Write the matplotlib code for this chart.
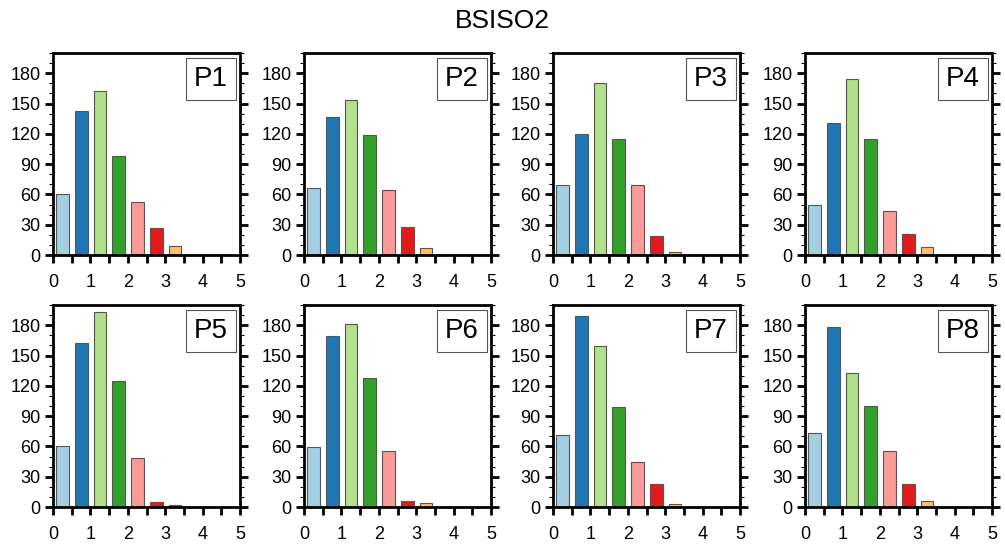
import numpy as np
import matplotlib.pyplot as plt
from matplotlib.ticker import MultipleLocator

plt.rcParams['font.family'] = ['Liberation Sans', 'DejaVu Sans']

# bin centres (amplitude bins of width 0.5)
bins = [0.25, 0.75, 1.25, 1.75, 2.25, 2.75, 3.25, 3.75, 4.25, 4.75]
phases = ['P1', 'P2', 'P3', 'P4', 'P5', 'P6', 'P7', 'P8']

p1 = [60, 143, 162, 98, 52, 27, 9, 0, 0, 0]
p2 = [66, 137, 153, 119, 64, 28, 7, 0, 0, 0]
p3 = [69, 120, 170, 115, 69, 19, 3, 0, 0, 0]
p4 = [50, 131, 174, 115, 44, 21, 8, 0, 0, 0]
p5 = [60, 162, 193, 125, 49, 5, 2, 0, 0, 0]
p6 = [59, 169, 181, 128, 55, 6, 4, 0, 0, 0]
p7 = [71, 189, 159, 99, 45, 23, 3, 0, 0, 0]
p8 = [73, 178, 133, 100, 55, 23, 6, 0, 0, 0]
counts = [p1, p2, p3, p4, p5, p6, p7, p8]

colors = ['#a6cee3', '#1f78b4', '#b2df8a', '#33a02c', '#fb9a99',
          '#e31a1c', '#fdbf6f', '#ff7f00', '#cab2d6', '#6a3d9a']

fig = plt.figure(figsize=(10.05, 5.48), dpi=100)
fig.text(0.5, 0.962, 'BSISO2', ha='center', va='center', fontsize=19)

lefts = [53, 304, 553, 805]
tops = [53, 305]
W, H = 187, 202

for i, (name, vals) in enumerate(zip(phases, counts)):
    r, c = divmod(i, 4)
    x0 = lefts[c] / 1005
    y0 = 1 - (tops[r] + H) / 548
    ax = fig.add_axes([x0, y0, W / 1005, H / 548])
    ax.bar(np.array(bins) + 0.01, vals, width=0.34, color=colors,
           edgecolor='#555555', linewidth=0.8)
    ax.set_xlim(0, 5)
    ax.set_ylim(0, 200)
    ax.set_xticks(range(6))
    ax.set_xticks(np.arange(0.5, 5, 1.0), minor=True)
    ax.yaxis.set_major_locator(MultipleLocator(30))
    ax.yaxis.set_minor_locator(MultipleLocator(10))
    for s in ax.spines.values():
        s.set_linewidth(2)
    ax.tick_params(axis='x', which='both', direction='out', length=6,
                   width=2, top=False, labelsize=13, pad=8)
    ax.tick_params(axis='y', which='major', direction='out', length=6,
                   width=2, left=True, right=True, labelsize=13, pad=3)
    ax.tick_params(axis='y', which='minor', direction='out', length=3,
                   width=0.8, left=True, right=True)
    ax.text(0.935, 0.935, name, transform=ax.transAxes, ha='right', va='top',
            fontsize=20,
            bbox=dict(boxstyle='square,pad=0.3', fc='white', ec='#555555',
                      lw=0.8))

fig.savefig('out.png', dpi=100)
